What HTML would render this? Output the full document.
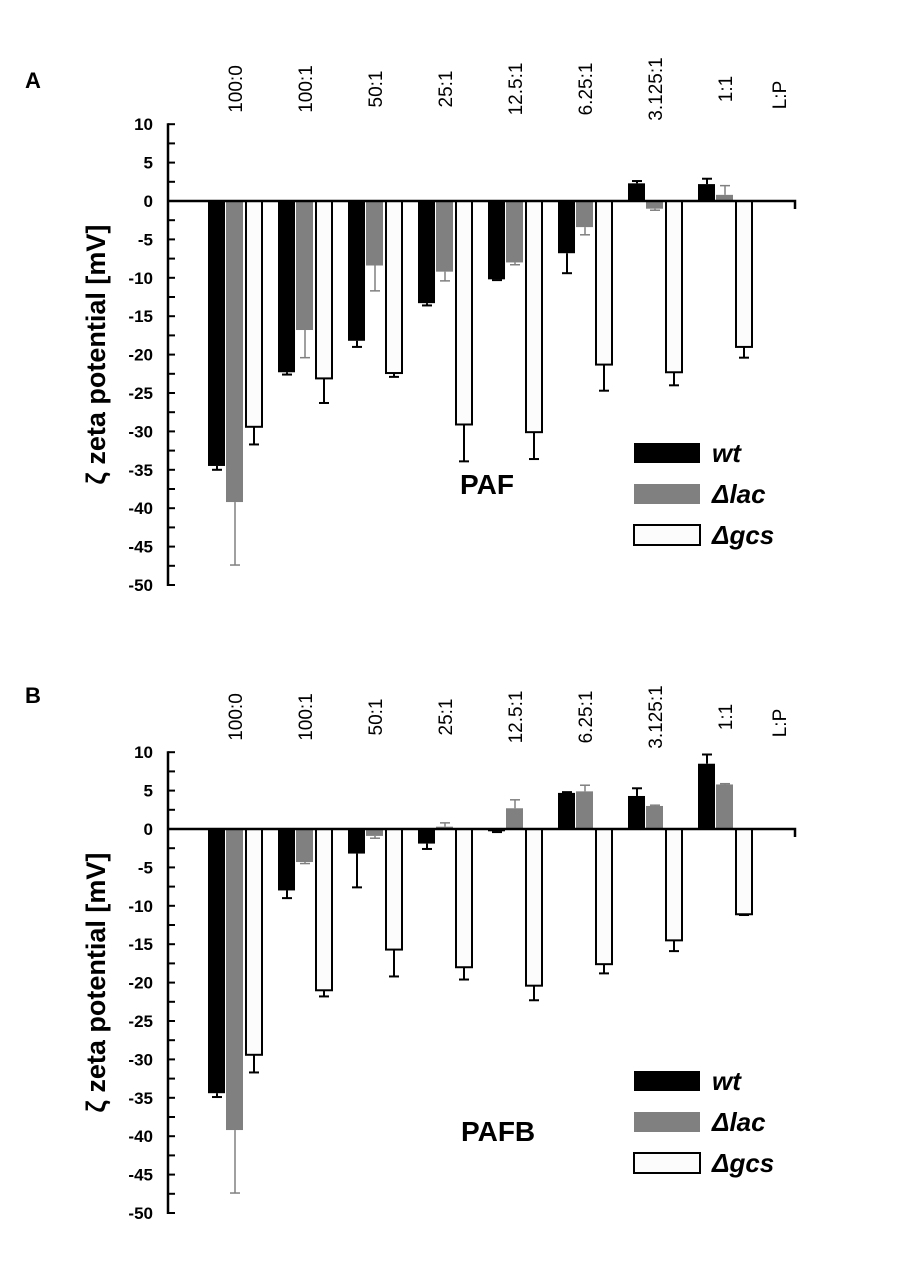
<!DOCTYPE html>
<html><head><meta charset="utf-8"><style>
html,body{margin:0;padding:0;background:#fff;}
svg{display:block;font-family:"Liberation Sans",Arial,sans-serif;}
</style></head><body>
<svg id="chart" width="900" height="1277" viewBox="0 0 900 1277">
<text x="25" y="88" font-size="22" font-weight="bold">A</text>
<text x="25" y="703" font-size="22" font-weight="bold">B</text>
</svg>
<script>
const categories = ["100:0","100:1","50:1","25:1","12.5:1","6.25:1","3.125:1","1:1"];
const ticks = [10,5,0,-5,-10,-15,-20,-25,-30,-35,-40,-45,-50];
const aWt = [-34.5,-22.3,-18.2,-13.3,-10.2,-6.8,2.3,2.2];
const aLac = [-39.2,-16.8,-8.4,-9.2,-8.0,-3.4,-1.0,0.8];
const aGcs = [-29.4,-23.1,-22.4,-29.1,-30.1,-21.3,-22.3,-19.0];
const aWtErr = [0.5,0.3,0.8,0.3,0.1,2.6,0.3,0.7];
const aLacErr = [8.2,3.6,3.3,1.2,0.3,1.0,0.2,1.2];
const aGcsErr = [2.3,3.2,0.5,4.8,3.5,3.4,1.7,1.4];
const bWt = [-34.4,-8.0,-3.2,-1.9,-0.3,4.7,4.3,8.5];
const bLac = [-39.2,-4.3,-0.9,0.3,2.7,4.9,3.0,5.8];
const bGcs = [-29.4,-21.0,-15.7,-18.0,-20.4,-17.6,-14.5,-11.1];
const bWtErr = [0.5,1.0,4.4,0.7,0.1,0.1,1.0,1.2];
const bLacErr = [8.2,0.2,0.3,0.5,1.1,0.8,0.1,0.1];
const bGcsErr = [2.3,0.8,3.5,1.6,1.9,1.2,1.4,0.1];

const svg = document.getElementById('chart');
const NS = 'http://www.w3.org/2000/svg';
function mk(tag, attrs, parent){
  const e = document.createElementNS(NS, tag);
  for (const k in attrs) e.setAttribute(k, attrs[k]);
  (parent||svg).appendChild(e);
  return e;
}
function panel(zeroY, wt, lac, gcs, wtE, lacE, gcsE, name, key, nameXY, legY){
  const g = mk('g', {});
  
  
  const ppu = 7.68;
  const y = v => zeroY - v * ppu;
  const gx = i => 208 + i * 70;
  const ax = mk('line', {x1:168, y1:y(10)-1, x2:168, y2:y(-50)+1, stroke:'#000','stroke-width':2.5}, g);
  
  
  for (let v = 10; v >= -50; v -= 2.5) {
    mk('line', {x1:168, y1:y(v), x2:175, y2:y(v), stroke:'#000','stroke-width':2}, g);
  }
  ticks.forEach(t => {
    const tl = mk('text', {x:153, y:y(t)+6, 'font-size':17, 'font-weight':'bold', 'text-anchor':'end'}, g);
    tl.textContent = t;
    
    
  });
  const yt = mk('text', {x:0, y:0, 'font-size':27, 'font-weight':'bold', 'text-anchor':'middle', transform:`translate(105,${y(-20)}) rotate(-90)`}, g);
  yt.textContent = 'ζ zeta potential [mV]';
  
  
  const series = [[wt, wtE, '#000', '#000', 0], [lac, lacE, '#808080', '#808080', 18], [gcs, gcsE, '#fcfcfc', '#000', 37]];
  categories.forEach((c, i) => {
    series.forEach((s, si) => {
      const v = s[0][i], e = s[1][i];
      const x = gx(i) + s[4];
      const top = Math.min(y(v), zeroY), h = Math.abs(y(v) - zeroY);
      const col = si === 1 ? '#808080' : '#000';
      const endY = v >= 0 ? y(v + e) : y(v - e);
      mk('line', {x1:x+9, y1:y(v), x2:x+9, y2:endY, stroke:col, 'stroke-width':si===1?1.5:2}, g);
      mk('line', {x1:x+4, y1:endY, x2:x+14, y2:endY, stroke:col, 'stroke-width':si===1?1.5:2}, g);
      const r = mk('rect', {x:x+(si===2?1:0), y:top, width:si===2?16:17, height:h, fill:s[2], stroke:si===2?'#000':'none', 'stroke-width':2}, g);
      
      
    });
    const cl = mk('text', {x:0, y:0, 'font-size':19, 'text-anchor':'middle', transform:`translate(${gx(i)+34},${zeroY-112}) rotate(-90)`}, g);
    cl.textContent = c;
    
    
  });
  const lp = mk('text', {x:0, y:0, 'font-size':19, 'text-anchor':'middle', transform:`translate(786,${zeroY-106}) rotate(-90)`}, g);
  lp.textContent = 'L:P';
  
  
  const xa = mk('path', {d:`M168 ${zeroY} H795 V${zeroY+8}`, stroke:'#000', 'stroke-width':2.5, fill:'none'}, g);
  
  
  const lg = [['#000','wt'],['#808080','Δlac'],['#fcfcfc','Δgcs']];
  lg.forEach((l, i) => {
    const ly = legY + i * 41;
    const sw = mk('rect', {x:634, y:ly, width:66, height:20, fill:l[0], stroke:i===2?'#000':'none', 'stroke-width':2}, g);
    
    
    const lt = mk('text', {x:712, y:ly+19, 'font-size':26, 'font-weight':'bold', 'font-style':'italic'}, g);
    lt.textContent = l[1];
    
    
  });
  const nt = mk('text', {x:nameXY[0], y:nameXY[1], 'font-size':28, 'font-weight':'bold'}, g);
  nt.textContent = name;
  
  
}
panel(201, aWt, aLac, aGcs, aWtErr, aLacErr, aGcsErr, 'PAF', 'a', [460,494], 443);
panel(829, bWt, bLac, bGcs, bWtErr, bLacErr, bGcsErr, 'PAFB', 'b', [461,1141], 1071);
</script>
</body></html>
